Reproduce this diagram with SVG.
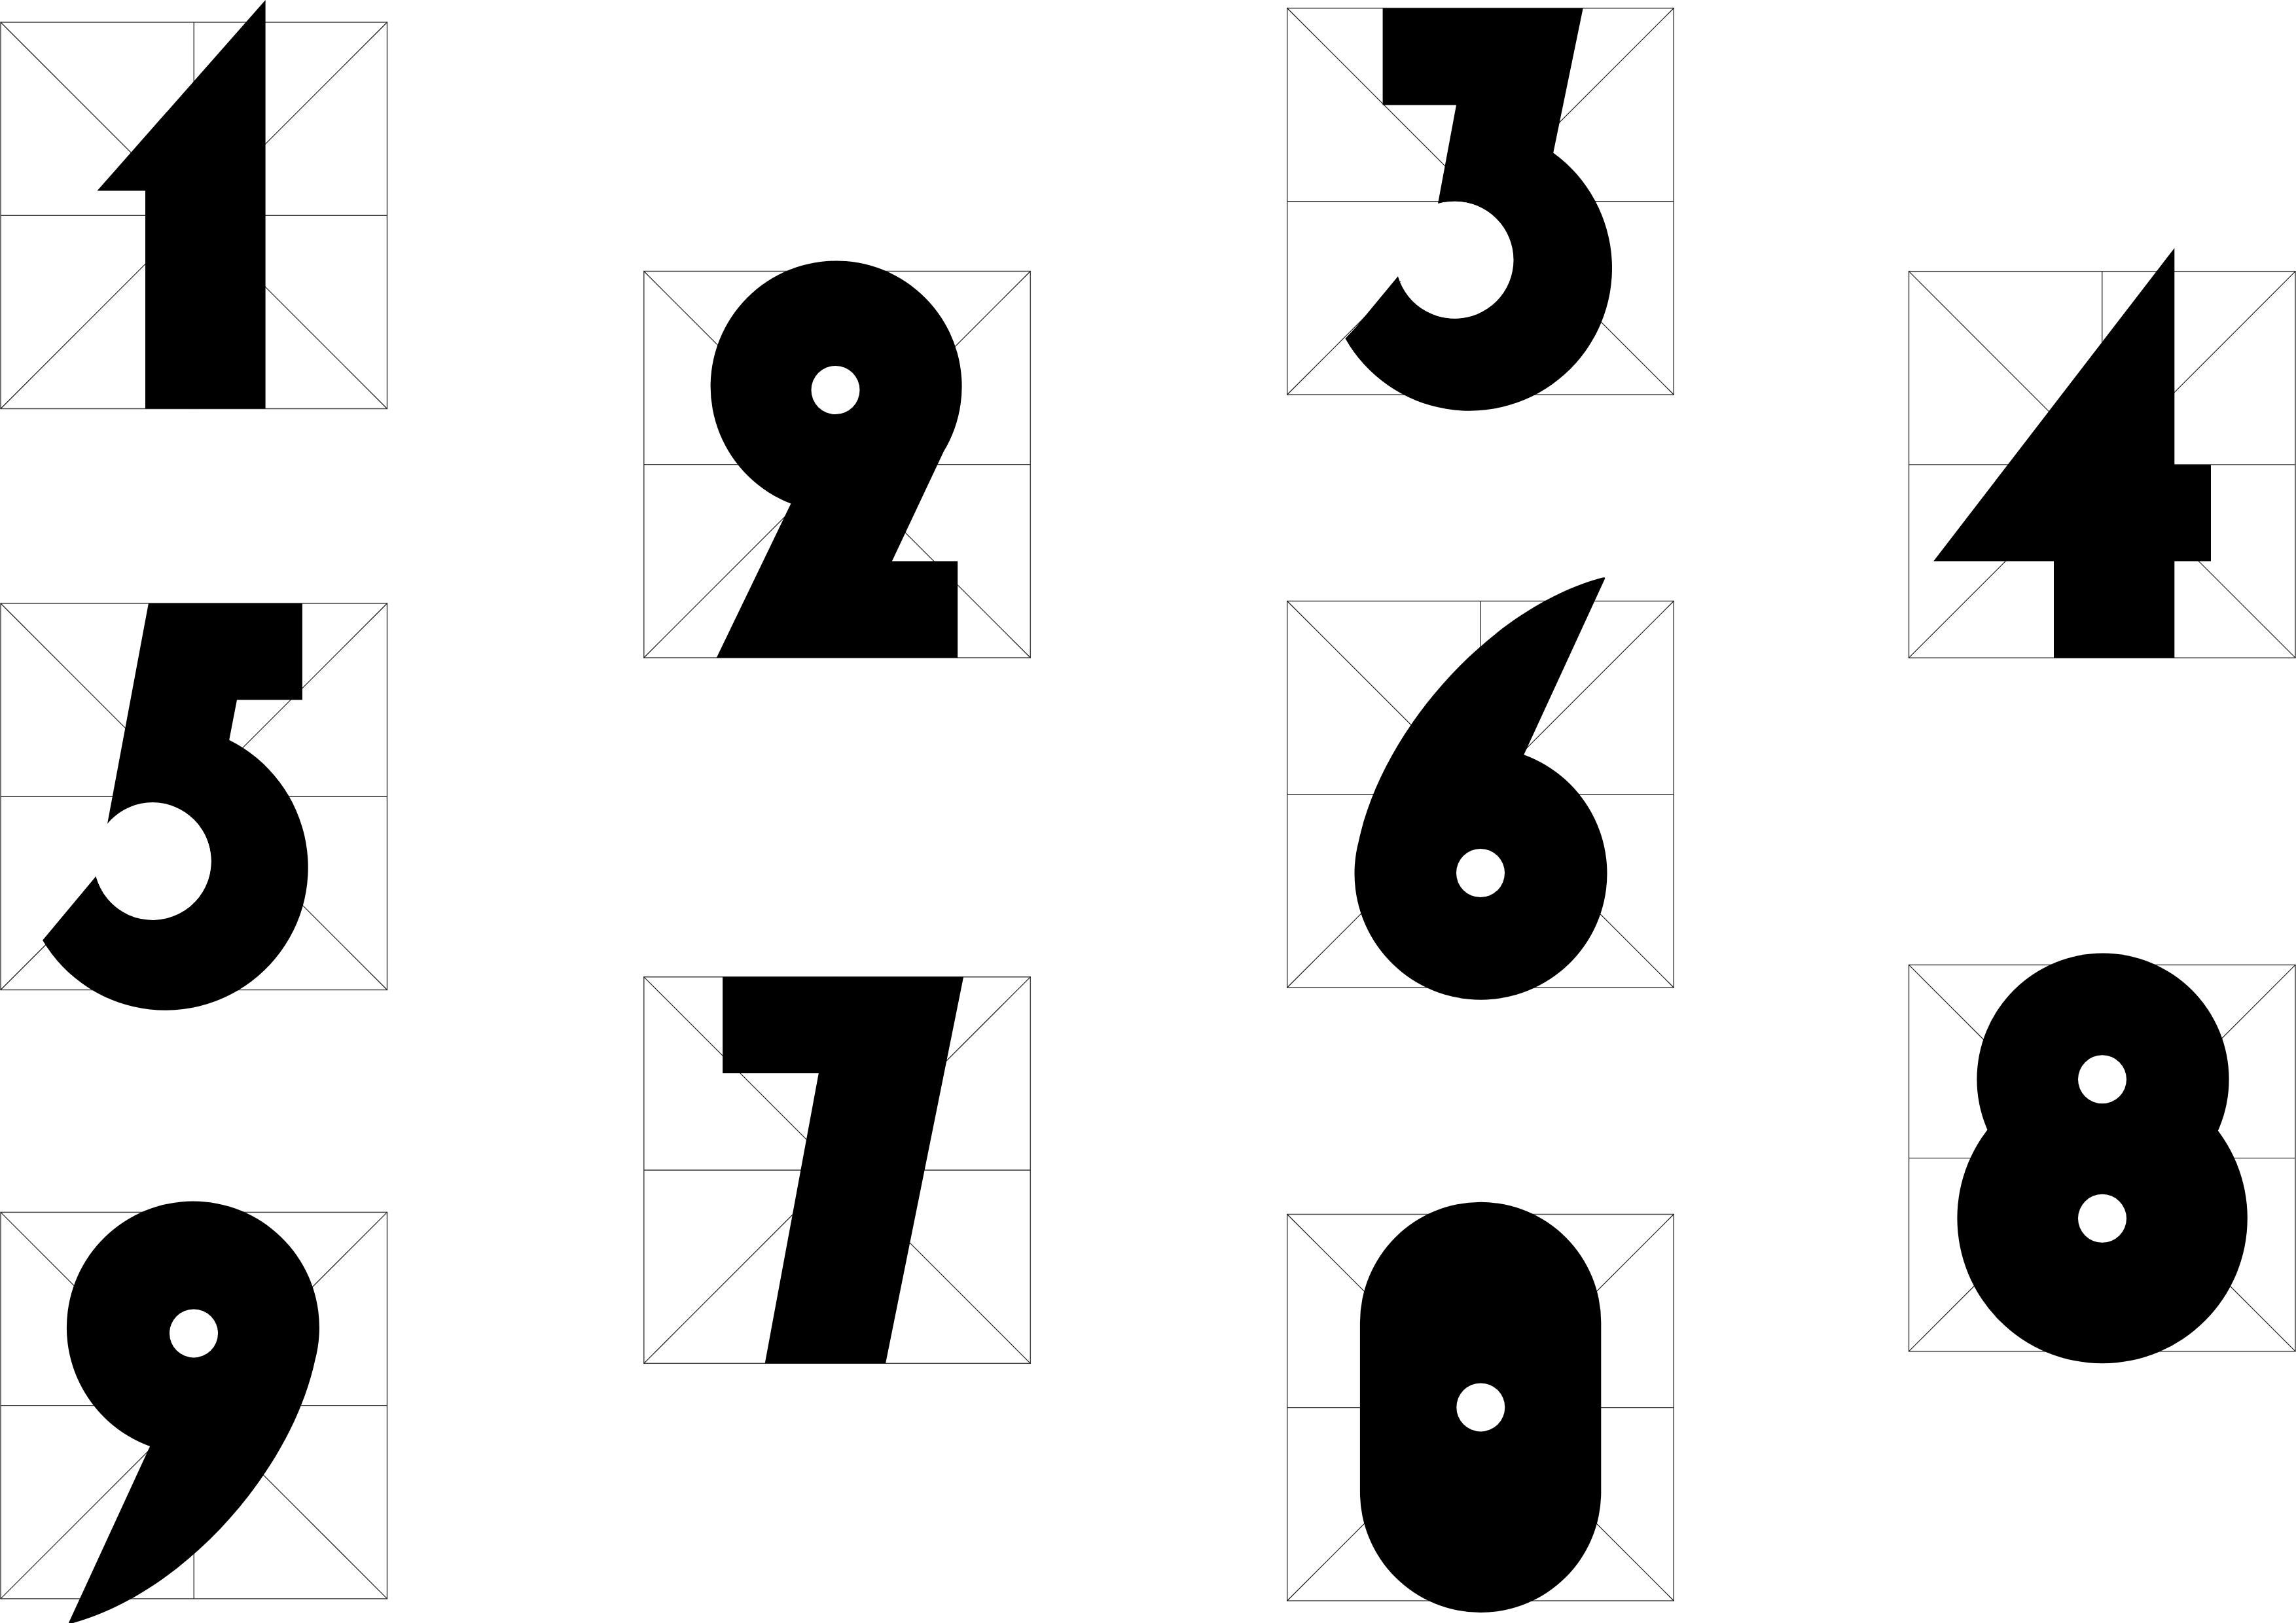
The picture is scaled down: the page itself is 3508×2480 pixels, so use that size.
<svg xmlns="http://www.w3.org/2000/svg" xmlns:xlink="http://www.w3.org/1999/xlink" width="3508" height="2480" viewBox="0 0 3508 2480">
<style>
.frame{fill:none;stroke:#444;stroke-width:1.5}
.mid{fill:none;stroke:#333;stroke-width:1.4}
.diag{fill:none;stroke:#111;stroke-width:1.1}
.ink{fill:#000;stroke:none}
.hole{fill:#fff;stroke:none}
</style>
<defs>
<g id="grid">
<rect class="frame" x="0" y="0" width="590.5" height="590.5"/>
<line class="diag" x1="0" y1="0" x2="590.5" y2="590.5"/>
<line class="diag" x1="0" y1="590.5" x2="590.5" y2="0"/>
<line class="mid" x1="0" y1="295.25" x2="590.5" y2="295.25"/>
<line class="mid" x1="295.25" y1="0" x2="295.25" y2="590.5"/>
</g>
<path id="tailbowl" d="M 67.5 -180.7 L 191.2 -449.5 Q 192.7 -453 186.7 -451.2 C 17.3 -405.5 -148.05 -220.5 -184.8 -49 A 193 193 0 1 0 67.5 -180.7 Z"/>
</defs>
<rect x="0" y="0" width="3508" height="2480" fill="#fff"/>

<g id="digit-1">
<use xlink:href="#grid" href="#grid" transform="translate(1 34)"/>
<polygon class="ink" points="405.6,0 405.6,624.5 222,624.5 222,291.5 148.5,291.5"/>
</g>

<g id="digit-2">
<use xlink:href="#grid" href="#grid" transform="translate(983.8 414.5)"/>
<path class="ink" d="M 1208.4 769.6 A 192 192 0 1 1 1441.8 690 L 1362.9 857.4 L 1463.2 857.4 L 1463.2 1005 L 1094.8 1005 Z"/>
<circle class="hole" cx="1276.5" cy="596" r="37"/>
</g>

<g id="digit-3">
<use xlink:href="#grid" href="#grid" transform="translate(1966.7 12.5)"/>
<path class="ink" d="M 2112.6 12.5 L 2418.7 12.5 L 2373.2 233.4 A 218 218 0 1 1 2055.4 517.3 L 2071.8 499.8 L 2135.9 422.3 A 89.5 89.5 0 1 0 2197 311 L 2225 160.4 L 2112.6 160.4 Z"/>
<circle class="hole" cx="2223" cy="397.2" r="89.5"/>
</g>

<g id="digit-4">
<use xlink:href="#grid" href="#grid" transform="translate(2916.5 414.7)"/>
<polygon class="ink" points="3322.3,378.9 3322.3,710.2 3378,710.2 3378,857.5 3322.3,857.5 3322.3,1005.2 3138,1005.2 3138,857.5 2954.2,857.5"/>
</g>

<g id="digit-5">
<use xlink:href="#grid" href="#grid" transform="translate(1 922)"/>
<path class="ink" d="M 226.9 922 L 461.9 922 L 461.9 1069.6 L 362 1069.6 L 350.2 1130.7 A 218 218 0 1 1 65.1 1436.7 L 146.6 1339 A 89.5 89.5 0 1 0 163.8 1259.9 Z"/>
<circle class="hole" cx="233.1" cy="1315.6" r="89.5"/>
</g>

<g id="digit-6">
<use xlink:href="#grid" href="#grid" transform="translate(1966.7 918.5)"/>
<use xlink:href="#tailbowl" href="#tailbowl" class="ink" transform="translate(2260.8 1334)"/>
<circle class="hole" cx="2262" cy="1334" r="37"/>
</g>

<g id="digit-7">
<use xlink:href="#grid" href="#grid" transform="translate(983.8 1492.8)"/>
<polygon class="ink" points="1104.1,1492.8 1472.1,1492.8 1353.1,2083.3 1168.7,2083.3 1250.8,1640 1104.1,1640"/>
</g>

<g id="digit-8">
<use xlink:href="#grid" href="#grid" transform="translate(2916.5 1474.4)"/>
<circle class="ink" cx="3213" cy="1649.2" r="192.6"/>
<circle class="ink" cx="3212.1" cy="1861.6" r="221.7"/>
<circle class="hole" cx="3212" cy="1649.3" r="37"/>
<circle class="hole" cx="3212" cy="1861.8" r="37"/>
</g>

<g id="digit-9">
<use xlink:href="#grid" href="#grid" transform="translate(1 1852.4)"/>
<use xlink:href="#tailbowl" href="#tailbowl" class="ink" transform="translate(296.6 2029.3) rotate(180)"/>
<circle class="hole" cx="296" cy="2037.4" r="37"/>
</g>

<g id="digit-0">
<use xlink:href="#grid" href="#grid" transform="translate(1966.7 1855.5)"/>
<rect class="ink" x="2077.9" y="1836.8" width="368.4" height="627.2" rx="184.2" ry="184.2"/>
<circle class="hole" cx="2262.3" cy="2150.4" r="37"/>
</g>
</svg>
